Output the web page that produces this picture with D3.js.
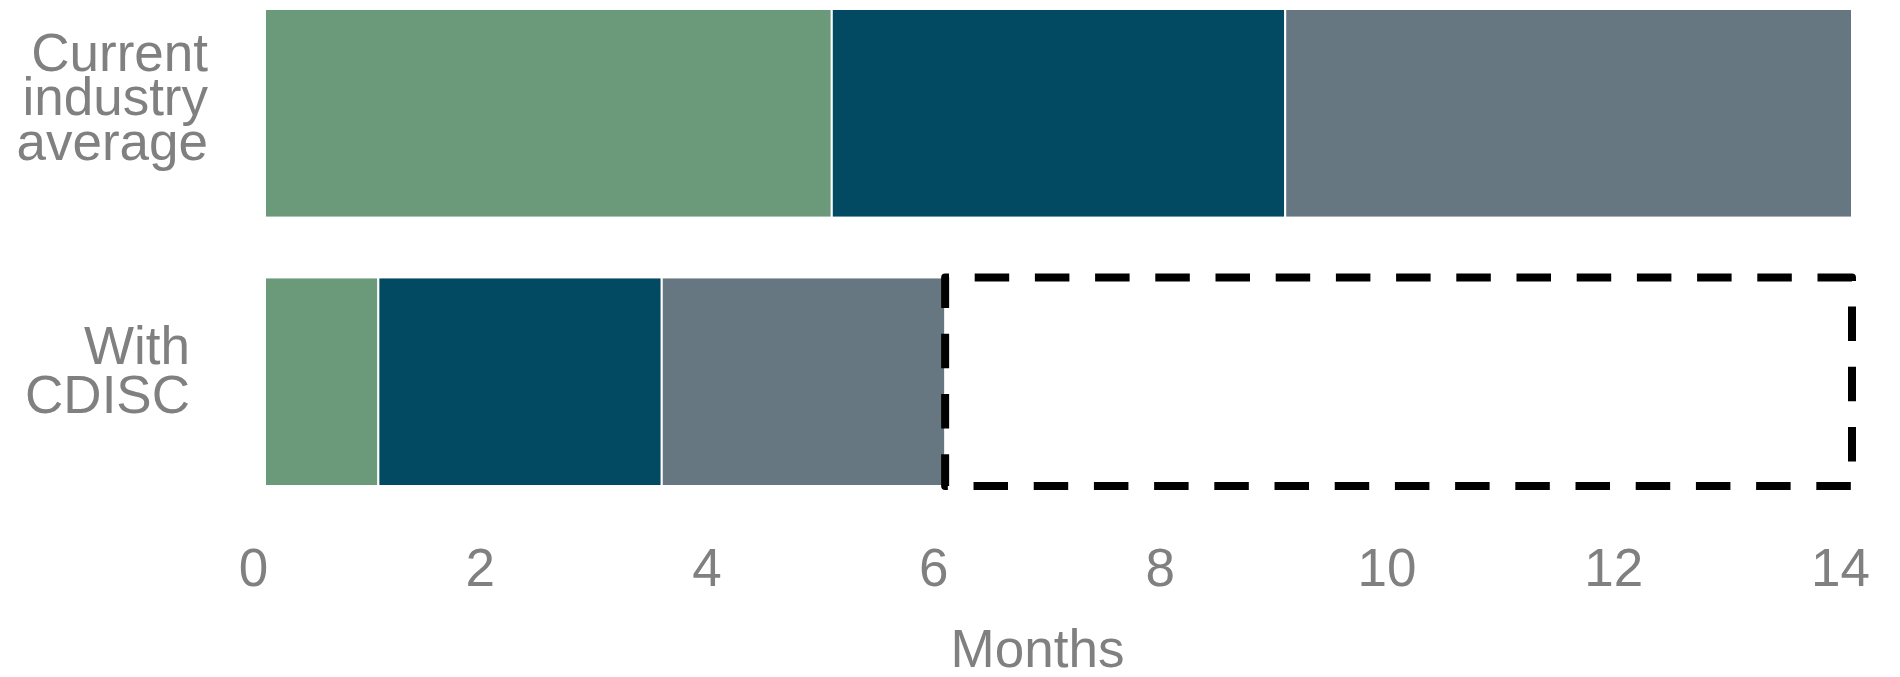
<!DOCTYPE html>
<html>
<head>
<meta charset="utf-8">
<script src="https://cdn.jsdelivr.net/npm/d3@7"></script>
<style>
  html, body { margin: 0; padding: 0; background: #fff; }
  text { font-family: "Liberation Sans", Arial, Helvetica, sans-serif; }
</style>
</head>
<body>
<svg id="chart" width="1900" height="677"></svg>
<script>
// ---- data ----
const categories = ["Current industry average", "With CDISC"];
const categoryLines = [["Current", "industry", "average"], ["With", "CDISC"]];
const stageNames = ["Stage 1", "Stage 2", "Stage 3"];
const stage1 = [5, 1];
const stage2 = [4, 2.5];
const stage3 = [5, 2.5];
const savedMonths = [0, 8]; // dashed outline on the CDISC row (from 6 to 14)
const xTicks = [0, 2, 4, 6, 8, 10, 12, 14];
const xTitle = "Months";

// ---- layout / style ----
const colors = ["#6a9a7a", "#024a62", "#677782"];
const textColor = "#808080";
const svg = d3.select("#chart");

const x = d3.scaleLinear().domain([0, 14]).range([265, 1852]);
const y = d3.scaleBand().domain(categories).range([9, 486]).paddingInner(0.223).paddingOuter(0);

const rows = categories.map((c, i) => {
  const vals = [stage1[i], stage2[i], stage3[i]];
  let acc = 0;
  return vals.map((v, k) => { const s = { cat: c, k, x0: acc, x1: acc + v }; acc += v; return s; });
});

svg.append("g").selectAll("rect")
  .data(rows.flat())
  .join("rect")
  .attr("x", d => x(d.x0))
  .attr("y", d => y(d.cat))
  .attr("width", d => x(d.x1) - x(d.x0))
  .attr("height", y.bandwidth())
  .attr("fill", d => colors[d.k])
  .attr("stroke", "#ffffff")
  .attr("stroke-width", 2);

// dashed box for saved time on CDISC row
{
  const cat = categories[1];
  const total = stage1[1] + stage2[1] + stage3[1];
  const xl = x(total), xr = x(total + savedMonths[1]);
  const yt = y(cat), yb = y(cat) + y.bandwidth();
  const p = d3.path();
  p.moveTo(xr, yt); p.lineTo(xl, yt); p.lineTo(xl, yb); p.lineTo(xr, yb); p.closePath();
  svg.append("path")
    .attr("d", p.toString())
    .attr("fill", "none")
    .attr("stroke", "#000")
    .attr("stroke-width", 8)
    .attr("stroke-dasharray", "34.5,25.7")
    .attr("stroke-linejoin", "round");
}

// category labels
const labelRight = [208, 190];
const labelLH = [44.3, 49.4];
const labelShift = [2, 6.6];
categories.forEach((c, i) => {
  const lines = categoryLines[i];
  const cy = y(c) + y.bandwidth() / 2;
  const t = svg.append("text")
    .attr("text-anchor", "end")
    .attr("fill", textColor)
    .attr("font-size", 53);
  lines.forEach((ln, j) => {
    t.append("tspan")
      .attr("x", labelRight[i])
      .attr("y", cy + (j - (lines.length - 1) / 2) * labelLH[i] + labelShift[i])
      .text(ln);
  });
});

// x axis
const axis = d3.axisBottom(x).tickValues(xTicks).tickSize(0).tickPadding(0).tickFormat(d3.format("d"));
const gx = svg.append("g").attr("transform", "translate(-12, 548)").call(axis);
gx.select(".domain").remove();
gx.selectAll("text")
  .attr("fill", textColor)
  .attr("font-size", 53)
  .attr("font-family", "'Liberation Sans', Arial, sans-serif")
  .attr("dy", "0.71em");

svg.append("text")
  .attr("x", (x.range()[0] + x.range()[1]) / 2 - 21)
  .attr("y", 667)
  .attr("text-anchor", "middle")
  .attr("fill", textColor)
  .attr("font-size", 53)
  .text(xTitle);
</script>
</body>
</html>
